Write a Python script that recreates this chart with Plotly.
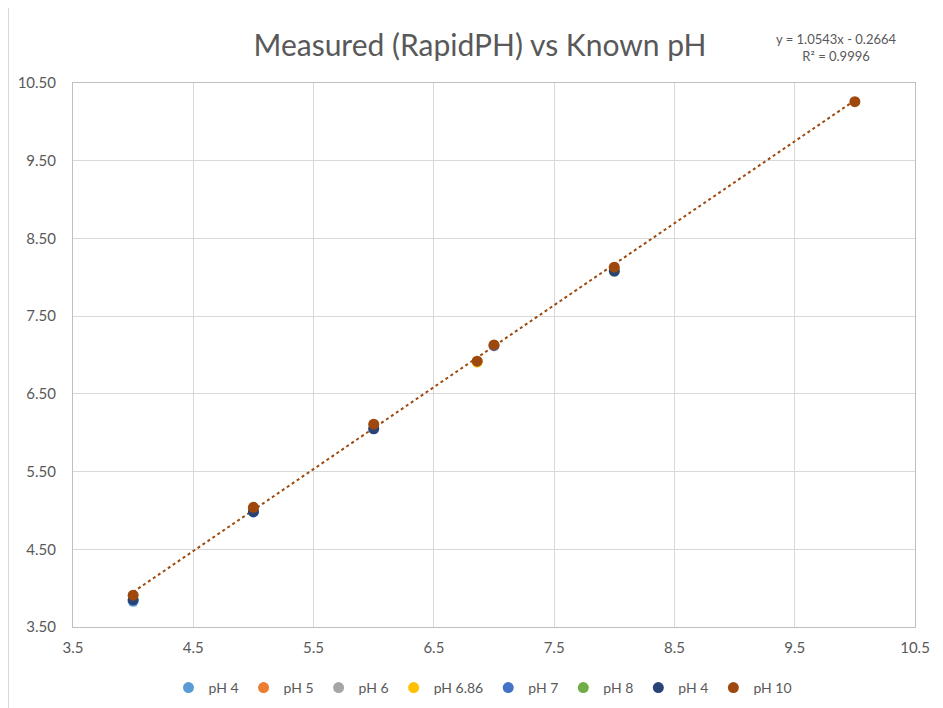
import plotly.graph_objects as go

series_names = ["pH 4", "pH 5", "pH 6", "pH 6.86", "pH 7", "pH 8", "pH 4", "pH 10"]
series_colors = ["#5B9BD5", "#ED7D31", "#A5A5A5", "#FFC000", "#4472C4", "#70AD47", "#264478", "#9E480E"]

# Known pH (x) and measured RapidPH (y) per series
series_x = [
    [4.0],
    [5.0],
    [6.0],
    [6.86],
    [7.0],
    [8.0],
    [4.0, 5.0, 6.0, 8.0],
    [4.0, 5.0, 6.0, 6.86, 7.0, 8.0, 10.0],
]
series_y = [
    [3.83],
    [5.00],
    [6.06],
    [6.91],
    [7.12],
    [8.08],
    [3.85, 4.98, 6.05, 8.08],
    [3.91, 5.04, 6.11, 6.92, 7.13, 8.13, 10.26],
]

trend_slope = 1.0543
trend_intercept = -0.2664
trend_r2 = 0.9996
trend_x = [4.0, 10.0]

fig = go.Figure()
trend_y = [trend_slope * v + trend_intercept for v in trend_x]
fig.add_trace(go.Scatter(
    x=trend_x, y=trend_y, mode="lines", showlegend=False,
    line=dict(color="#9E480E", width=2, dash="dot"), hoverinfo="skip",
))
for name, color, xs, ys in zip(series_names, series_colors, series_x, series_y):
    fig.add_trace(go.Scatter(
        x=xs, y=ys, mode="markers", name=name,
        marker=dict(color=color, size=11, line=dict(width=0)),
    ))

font_family = "Lato, Open Sans, sans-serif"
grid = "#D9D9D9"
tick_font = dict(family=font_family, size=15, color="#595959")

L, R, T, B = 65, 36, 75, 89
W, H = 943, 708
pw, ph = W - L - R, H - T - B

fig.update_layout(
    width=W, height=H,
    margin=dict(l=L, r=R, t=T, b=B, autoexpand=False),
    paper_bgcolor="white", plot_bgcolor="white",
    title=dict(text="Measured (RapidPH) vs Known pH", xref="paper", x=(472 - L) / pw,
               xanchor="center", yref="container", y=1 - 37 / H, yanchor="middle",
               font=dict(family=font_family, size=30, color="#595959")),
    xaxis=dict(range=[3.5, 10.5], dtick=1, tick0=3.5, tickformat=".1f",
               showgrid=True, gridcolor=grid, gridwidth=1,
               showline=True, linecolor="#BFBFBF", mirror=True,
               zeroline=False, ticks="", tickfont=tick_font, ticklabelstandoff=7),
    yaxis=dict(range=[3.5, 10.5], dtick=1, tick0=3.5, tickformat=".2f",
               showgrid=True, gridcolor=grid, gridwidth=1,
               showline=True, linecolor="#BFBFBF", mirror=True,
               zeroline=False, ticks="", tickfont=tick_font, ticklabelstandoff=13),
    legend=dict(orientation="h", x=(475 - L) / pw, xanchor="center",
                y=(619 - 680) / ph, yanchor="middle",
                font=dict(family=font_family, size=14, color="#595959"),
                itemwidth=30, tracegroupgap=0),
    showlegend=True,
    annotations=[
        dict(text=f"y = {trend_slope:.4f}x - {abs(trend_intercept):.4f}<br>R² = {trend_r2:.4f}",
             xref="paper", yref="paper", x=(828 - L) / pw, y=1 + (T - 39.5) / ph,
             xanchor="center", yanchor="middle",
             showarrow=False, align="center",
             font=dict(family=font_family, size=13, color="#595959")),
    ],
    shapes=[
        dict(type="rect", xref="paper", yref="paper",
             x0=(-L + 0.5) / pw, y0=-0.5, x1=1.5, y1=1 + (T + 2) / ph,
             line=dict(color="#D9D9D9", width=1), fillcolor="rgba(0,0,0,0)", layer="below"),
    ],
)

fig.write_html("out.html")
